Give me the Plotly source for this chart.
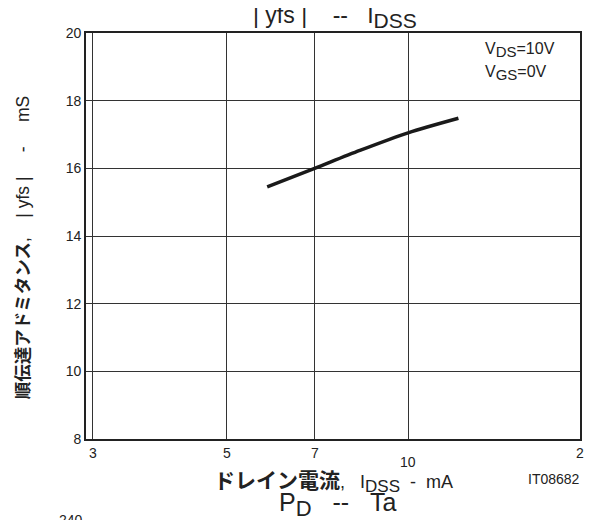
import math
import plotly.graph_objects as go

# Data
idss_mA = [5.84, 7.0, 8.32, 10.0, 12.12]
yfs_mS = [15.45, 16.0, 16.53, 17.05, 17.48]

x_tick_vals = [3, 5, 7, 10, 20]
x_tick_text = ["3", "5", "7", "10", "2"]
y_tick_vals = [8, 10, 12, 14, 16, 18, 20]

X_MIN, X_MAX = 2.924, 19.28   # axis range as drawn in the reference
Y_MIN, Y_MAX = 8, 20

FONT = "Liberation Sans, Arial, Noto Sans CJK JP, sans-serif"
GRID = "#333333"
NB = "\u00a0"


def sub(t, size):
    return f"<sub><span style='font-size:{size}px'>{t}</span></sub>"


def sp(n):
    return NB * n


fig = go.Figure()
fig.add_trace(go.Scatter(
    x=idss_mA, y=yfs_mS, mode="lines",
    line=dict(color="#1a1a1a", width=3.4, shape="spline", smoothing=0.8),
    showlegend=False, hoverinfo="skip",
))

# the page body has an 8px margin, so the figure is 8px smaller than the window
fig.update_layout(
    width=592, height=512,
    margin=dict(l=78, r=20, t=25, b=81),
    paper_bgcolor="white", plot_bgcolor="white",
    font=dict(family=FONT, size=14, color="#222"),
    xaxis=dict(
        type="log", range=[math.log10(X_MIN), math.log10(X_MAX)],
        tickvals=x_tick_vals, showticklabels=False,
        showgrid=True, gridcolor=GRID, gridwidth=1,
        showline=True, linecolor="#222", linewidth=1.6, mirror=True,
        ticks="", zeroline=False,
    ),
    yaxis=dict(
        range=[Y_MIN, Y_MAX], tickvals=y_tick_vals,
        showgrid=True, gridcolor=GRID, gridwidth=1,
        showline=True, linecolor="#222", linewidth=1.6, mirror=True,
        ticks="", zeroline=False,
        tickfont=dict(size=14, color="#222"),
    ),
)

lo, hi = math.log10(X_MIN), math.log10(X_MAX)
for v, t in zip(x_tick_vals, x_tick_text):
    lx = min(max(math.log10(v), lo), hi)
    fig.add_annotation(
        x=lx, y=0, xref="x", yref="paper",
        text=t, showarrow=False, yanchor="top",
        yshift=-4 if t != "10" else -13,
        font=dict(size=14, color="#222"),
    )

annots = [
    dict(x=0.505, y=1, xanchor="center", yanchor="bottom", yshift=-1,
         text=f"|{NB}yfs{NB}|{sp(4)}--{sp(3)}I" + sub("DSS", 21),
         font=dict(size=23)),
    dict(x=0.8036, y=1, xanchor="left", yanchor="top", yshift=-5,
         text="V" + sub("DS", 15) + "=10V", font=dict(size=16)),
    dict(x=0.8036, y=1, xanchor="left", yanchor="top", yshift=-28,
         text="V" + sub("GS", 15) + "=0V", font=dict(size=16)),
    dict(x=0.5, y=0, xanchor="center", yanchor="top", yshift=-28,
         text="<b><span style='font-size:21px'>ドレイン電流</span></b>,"
              + f"{sp(3)}I" + sub("DSS", 17) + f"{sp(2)}-{sp(2)}mA",
         font=dict(size=18)),
    dict(x=1, y=0, xanchor="right", yanchor="top", yshift=-30, xshift=2,
         text="IT08682", font=dict(size=14)),
    dict(x=0.51, y=0, xanchor="center", yanchor="top", yshift=-47,
         text="P" + sub("D", 22) + f"{sp(3)}--{sp(3)}Ta",
         font=dict(size=25)),
    dict(x=-0.0587, y=0, xanchor="left", yanchor="top", yshift=-71,
         text="240", font=dict(size=14)),
    dict(x=-0.1275, y=0.47, xanchor="center", yanchor="middle", textangle=-90,
         text=f"<b>順伝達アドミタンス</b>,{sp(4)}|{sp(1)}yfs{sp(1)}|{sp(5)}-{sp(5)}mS",
         font=dict(size=17.5)),
]
for a in annots:
    fig.add_annotation(showarrow=False, xref="paper", yref="paper", **a)

fig.write_html("out.html")
